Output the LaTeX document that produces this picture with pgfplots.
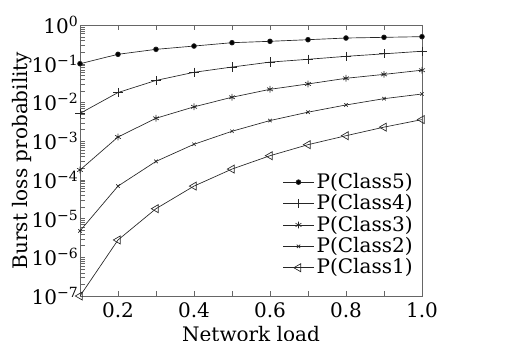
\documentclass[border=0pt]{standalone}
\usepackage{fontspec}
\setmainfont{DejaVu Serif}
\usepackage{pgfplots}
\pgfplotsset{compat=1.18}
\begin{document}
\fontsize{15}{17}\selectfont
\begin{tikzpicture}
\useasboundingbox (-60pt,-33.75pt) rectangle (328.5pt,222pt);
\begin{axis}[
  at={(0,0)}, anchor=south west,
  width=256.5pt, height=203.25pt, scale only axis,
  ymode=log, xmin=0.1, xmax=1.0, ymin=1e-7, ymax=1,
  /pgf/number format/assume math mode=true,
  xtick={0.2,0.4,0.6,0.8,1.0},
  minor xtick={0.3,0.5,0.7,0.9},
  xticklabels={0.2,0.4,0.6,0.8,1.0},
  ytick={1e-7,1e-6,1e-5,1e-4,1e-3,1e-2,1e-1,1},
  yticklabels={10\textsuperscript{−7},10\textsuperscript{−6},10\textsuperscript{−5},10\textsuperscript{−4},10\textsuperscript{−3},10\textsuperscript{−2},10\textsuperscript{−1},10\textsuperscript{0}},
  ytick pos=left, xtick pos=both,
  tick align=inside,
  major tick length=4pt, minor tick length=4pt,
  axis line style={gray!80!black, line width=0.5pt},
  tick style={gray!80!black},
  tick label style={font=\fontsize{15}{17}\selectfont},
  yticklabel style={inner sep=1pt},
  xticklabel style={inner sep=0pt, yshift=-5pt},
  label style={font=\fontsize{15}{17}\selectfont},
  xlabel={Network load}, ylabel={Burst loss probability},
  every axis x label/.style={at={(axis description cs:0.5,-0.112)}, anchor=north, inner sep=0pt},
  every axis y label/.style={at={(axis description cs:-0.17,0.5)}, rotate=90, anchor=center},
  legend style={at={(0.985,0.055)}, anchor=south east, draw=none, fill=none,
    font=\fontsize{15}{15.4}\selectfont, row sep=-1.6pt, inner sep=1pt},
  legend cell align=left,
  legend image code/.code={
    \draw[mark repeat=2,mark phase=2] plot coordinates {(0cm,0cm) (0.4cm,0cm) (0.8cm,0cm)};
  },
  every axis plot/.append style={black!85, line width=0.5pt},
]
\addplot[mark=*, mark size=1.8pt, mark options={fill=black}] coordinates {
(0.1,0.1) (0.2,0.175) (0.3,0.235) (0.4,0.286) (0.5,0.349) (0.6,0.379) (0.7,0.417) (0.8,0.461) (0.9,0.48) (1.0,0.5)};
\addlegendentry{P(Class5)}
\addplot[mark=+, mark size=3.5pt] coordinates {
(0.1,0.0052) (0.2,0.018) (0.3,0.037) (0.4,0.060) (0.5,0.082) (0.6,0.11) (0.7,0.13) (0.8,0.155) (0.9,0.18) (1.0,0.21)};
\addlegendentry{P(Class4)}
\addplot[mark=asterisk, mark size=2.5pt] coordinates {
(0.1,1.8e-4) (0.2,1.28e-3) (0.3,3.9e-3) (0.4,7.7e-3) (0.5,0.0136) (0.6,0.0218) (0.7,0.030) (0.8,0.042) (0.9,0.053) (1.0,0.068)};
\addlegendentry{P(Class3)}
\addplot[mark=x, mark size=1.8pt] coordinates {
(0.1,4.8e-6) (0.2,6.9e-5) (0.3,3.0e-4) (0.4,8.3e-4) (0.5,1.8e-3) (0.6,3.4e-3) (0.7,5.6e-3) (0.8,8.6e-3) (0.9,0.0125) (1.0,0.0165)};
\addlegendentry{P(Class2)}
\addplot[mark=triangle, mark size=3.5pt, mark options={rotate=90, fill=white}] coordinates {
(0.1,1e-7) (0.2,2.8e-6) (0.3,1.8e-5) (0.4,6.9e-5) (0.5,1.9e-4) (0.6,4.2e-4) (0.7,8.1e-4) (0.8,1.38e-3) (0.9,2.3e-3) (1.0,3.6e-3)};
\addlegendentry{P(Class1)}
\end{axis}
\end{tikzpicture}
\end{document}
